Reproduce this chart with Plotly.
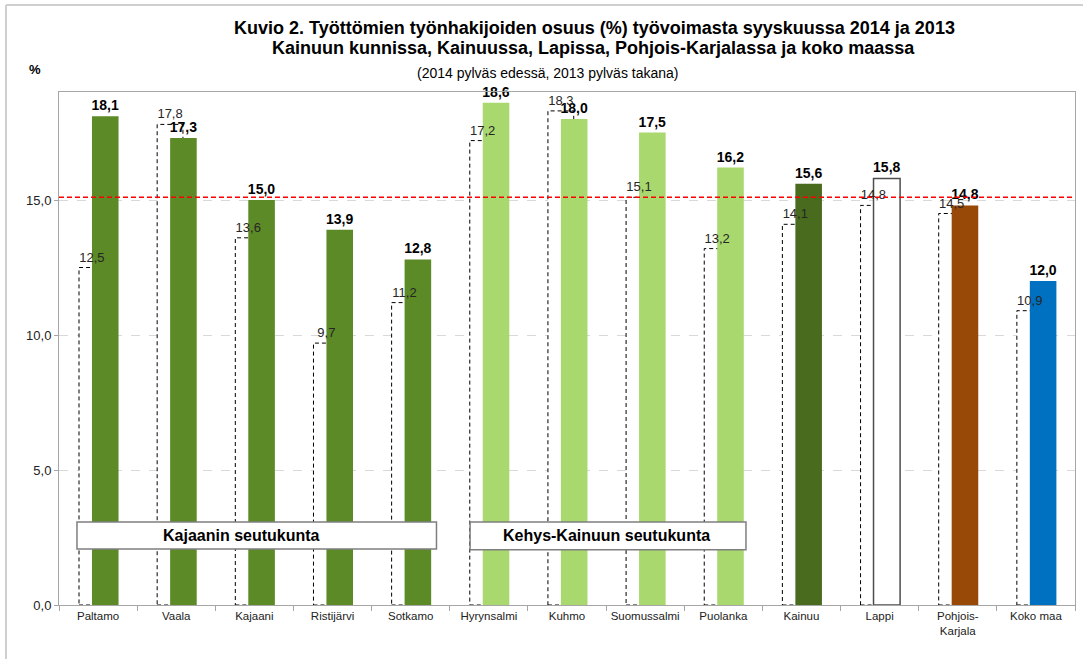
import plotly.graph_objects as go

# ---- data ----
categories = ["Paltamo", "Vaala", "Kajaani", "Ristijärvi", "Sotkamo", "Hyrynsalmi",
              "Kuhmo", "Suomussalmi", "Puolanka", "Kainuu", "Lappi",
              "Pohjois-<br>Karjala", "Koko maa"]
values_2014 = [18.1, 17.3, 15.0, 13.9, 12.8, 18.6, 18.0, 17.5, 16.2, 15.6, 15.8, 14.8, 12.0]
values_2013 = [12.5, 17.8, 13.6, 9.7, 11.2, 17.2, 18.3, 15.1, 13.2, 14.1, 14.8, 14.5, 10.9]
reference_line = 15.1
y_ticks = [0, 5, 10, 15]

# ---- styles ----
C_KAJ = "#5b8a26"
C_KEHYS = "#a9d86e"
C_KAINUU = "#486b1e"
C_LAPPI = "#ffffff"
C_PK = "#984807"
C_KOKO = "#0070c0"
bar_colors = [C_KAJ] * 5 + [C_KEHYS] * 4 + [C_KAINUU, C_LAPPI, C_PK, C_KOKO]
line_colors = ["rgba(0,0,0,0)"] * 10 + ["#4d4d4d"] + ["rgba(0,0,0,0)"] * 2
line_widths = [0] * 10 + [1.5] + [0] * 2

FONT = "Liberation Sans, Arial, sans-serif"
W, H = 1083, 659
L, R, T, B = 59, 8, 92, 54
PW, PH = W - L - R, H - T - B

BACK_OFF, BACK_W = -0.244, 0.33
FRONT_OFF, FRONT_W = -0.078, 0.34


def px_x(px):
    return (px - L) / PW


def px_y(py):
    return (H - B - py) / PH


fig = go.Figure()

# 2014 (front bars)
fig.add_trace(go.Bar(
    x=categories, y=values_2014, name="2014",
    offset=FRONT_OFF, width=FRONT_W,
    marker=dict(color=bar_colors, line=dict(color=line_colors, width=line_widths)),
    texttemplate="<b>%{y:.1f}</b>", textposition="outside", constraintext="none",
    textfont=dict(family=FONT, size=14, color="#000000"),
    cliponaxis=False, showlegend=False,
))

# 2013 (behind) – transparent bar trace carrying the labels (drawn on top so labels stay visible);
# the visible dashed white bars are the shapes below, placed under the traces
fig.add_trace(go.Bar(
    x=categories, y=values_2013, name="2013",
    offset=BACK_OFF, width=BACK_W,
    marker=dict(color="rgba(0,0,0,0)", line=dict(width=0)),
    texttemplate="%{y:.1f}", textposition="outside", constraintext="none",
    textfont=dict(family=FONT, size=13, color="#262626"),
    cliponaxis=False, showlegend=False,
))

shapes = []
for i, v in enumerate(values_2013):
    shapes.append(dict(
        type="rect", xref="x", yref="y", layer="between",
        x0=i + BACK_OFF, x1=i + BACK_OFF + BACK_W, y0=0, y1=v,
        fillcolor="white", line=dict(color="#000000", width=1, dash="4px,3px"),
    ))

# red reference line
shapes.append(dict(
    type="line", xref="paper", yref="y", layer="above",
    x0=0, x1=1, y0=reference_line, y1=reference_line,
    line=dict(color="#ff0000", width=1.5, dash="5px,3px"),
))

# region boxes
shapes.append(dict(type="rect", xref="x", yref="y", layer="above",
                   x0=-0.27, x1=4.33, y0=2.07, y1=3.07,
                   fillcolor="white", line=dict(color="#7f7f7f", width=1.5)))
shapes.append(dict(type="rect", xref="x", yref="y", layer="above",
                   x0=4.76, x1=8.29, y0=2.05, y1=3.07,
                   fillcolor="white", line=dict(color="#7f7f7f", width=1.5)))

# outer frame (left and top)
shapes.append(dict(type="line", xref="paper", yref="paper", layer="above",
                   x0=px_x(6), x1=px_x(6), y0=px_y(H + 5), y1=px_y(5),
                   line=dict(color="#cfcfcf", width=2)))
shapes.append(dict(type="line", xref="paper", yref="paper", layer="above",
                   x0=px_x(6), x1=px_x(W + 5), y0=px_y(5), y1=px_y(5),
                   line=dict(color="#cfcfcf", width=2)))

annotations = [
    dict(text="<b>Kuvio 2. Työttömien työnhakijoiden osuus (%) työvoimasta syyskuussa 2014 ja 2013</b>",
         xref="paper", yref="paper", x=px_x(594), y=px_y(28), showarrow=False,
         xanchor="center", yanchor="middle", font=dict(family=FONT, size=18, color="#000")),
    dict(text="<b>Kainuun kunnissa, Kainuussa, Lapissa, Pohjois-Karjalassa ja koko maassa</b>",
         xref="paper", yref="paper", x=px_x(593), y=px_y(48), showarrow=False,
         xanchor="center", yanchor="middle", font=dict(family=FONT, size=18, color="#000")),
    dict(text="(2014 pylväs edessä, 2013 pylväs takana)",
         xref="paper", yref="paper", x=px_x(548), y=px_y(73), showarrow=False,
         xanchor="center", yanchor="middle", font=dict(family=FONT, size=14, color="#000")),
    dict(text="<b>%</b>", xref="paper", yref="paper", x=px_x(35), y=px_y(70), showarrow=False,
         xanchor="center", yanchor="middle", font=dict(family=FONT, size=13, color="#000")),
    dict(text="<b>Kajaanin seutukunta</b>", xref="x", yref="y", x=1.83, y=2.57, showarrow=False,
         xanchor="center", yanchor="middle", font=dict(family=FONT, size=16, color="#000")),
    dict(text="<b>Kehys-Kainuun seutukunta</b>", xref="x", yref="y", x=6.5, y=2.57, showarrow=False,
         xanchor="center", yanchor="middle", font=dict(family=FONT, size=16, color="#000")),
]

fig.update_layout(
    width=W, height=H,
    margin=dict(l=L, r=R, t=T, b=B, autoexpand=False),
    paper_bgcolor="white", plot_bgcolor="white",
    barmode="overlay", separators=", ",
    shapes=shapes, annotations=annotations,
    showlegend=False,
    font=dict(family=FONT, size=12, color="#222"),
)
fig.update_xaxes(
    type="category", range=[-0.5, len(categories) - 0.5],
    tickson="boundaries", ticks="outside", ticklen=5, tickcolor="#a6a6a6",
    showline=True, linecolor="#a6a6a6", linewidth=1, mirror=True,
    showgrid=False, tickangle=0, automargin=False,
    tickfont=dict(family=FONT, size=11.5, color="#222"),
)
fig.update_yaxes(
    range=[0, 19], tickvals=y_ticks, tickformat=".1f",
    ticks="outside", ticklen=4, tickcolor="#a6a6a6",
    showline=True, linecolor="#a6a6a6", linewidth=1, mirror=True,
    showgrid=True, gridcolor="#d9d9d9", griddash="dash", zeroline=False,
    automargin=False,
    tickfont=dict(family=FONT, size=13, color="#222"),
)

fig.write_html("out.html", config={"displayModeBar": False},
               post_script="document.body.style.margin='0';document.body.style.padding='0';")
